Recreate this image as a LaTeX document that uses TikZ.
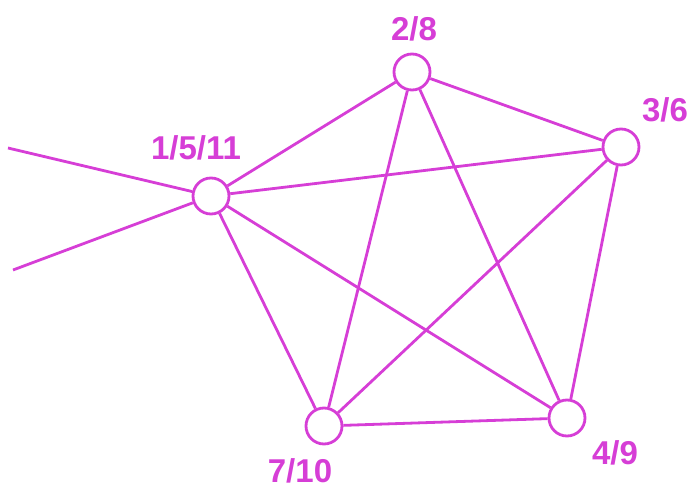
\documentclass[tikz,border=0pt]{standalone}
\usepackage{fontspec}
\setmainfont{Liberation Sans}
\usepackage{tikz}
\definecolor{pinkline}{RGB}{214,62,214}

\begin{document}
\begin{tikzpicture}[x=1pt, y=-1pt, line width=2.8pt, draw=pinkline,
		vert/.style={circle, draw=pinkline, fill=white, minimum size=36pt, inner sep=0pt},
		lab/.style={text=pinkline, font=\fontsize{33}{36}\selectfont\bfseries, inner sep=0pt}]
		\useasboundingbox (0,0) rectangle (691,489);

		% Vertices
		\node[vert] (a) at (211,196) {};
		\node[vert] (b) at (412,72) {};
		\node[vert] (c) at (621,147) {};
		\node[vert] (d) at (567,418) {};
		\node[vert] (e) at (324,426) {};

		% Labels
		\node[lab] (la) at (196,148) {1/5/11};
		\node[lab] (lb) at (414,29) {2/8};
		\node[lab] (lc) at (665,110) {3/6};
		\node[lab] (ld) at (615,453) {4/9};
		\node[lab] (le) at (300,471) {7/10};

		% Loose ends
		\coordinate (p) at (8,148);
		\coordinate (q) at (13,270);

		% Edges
		\draw[pinkline] (p) -- (a);
		\draw[pinkline] (q) -- (a);
		\foreach \s/\t in {a/b, a/c, a/d, a/e, b/c, b/d, b/e, c/d, c/e, d/e}
			\draw[pinkline] (\s) -- (\t);
\end{tikzpicture}
\end{document}
